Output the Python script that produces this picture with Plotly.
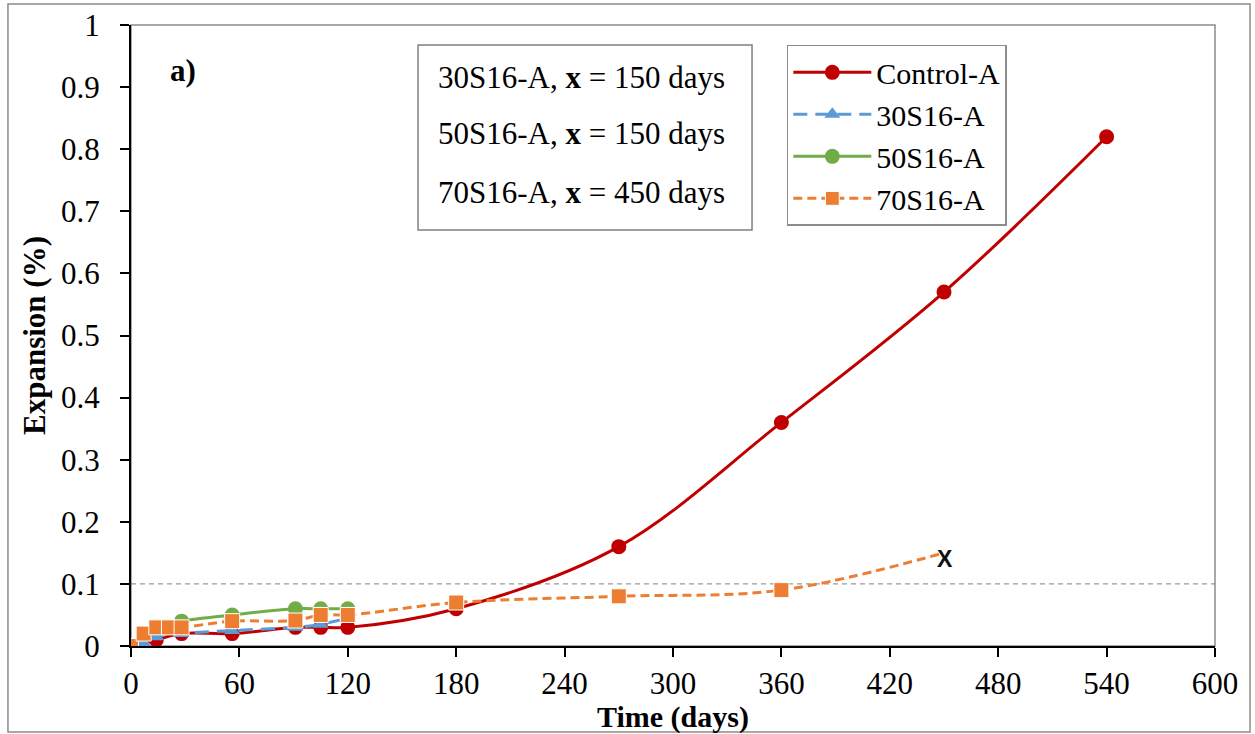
import plotly.graph_objects as go

# ---- data ----
days_control = [0, 14, 28, 56, 91, 105, 120, 180, 270, 360, 450, 540]
exp_control = [0, 0.01, 0.02, 0.02, 0.03, 0.03, 0.03, 0.06, 0.16, 0.36, 0.57, 0.82]

days_30 = [0, 7, 14, 28, 56, 91, 105, 120]
exp_30 = [0, 0.005, 0.015, 0.02, 0.025, 0.03, 0.035, 0.045]

days_50 = [0, 7, 14, 28, 56, 91, 105, 120]
exp_50 = [0, 0.02, 0.03, 0.04, 0.05, 0.06, 0.06, 0.06]

days_70 = [0, 7, 14, 21, 28, 56, 91, 105, 120, 180, 270, 360, 450]
exp_70 = [0, 0.02, 0.03, 0.03, 0.03, 0.04, 0.041, 0.05, 0.05, 0.07, 0.08, 0.09, 0.15]

x_ticks = [0, 60, 120, 180, 240, 300, 360, 420, 480, 540, 600]
y_ticks = [0, 0.1, 0.2, 0.3, 0.4, 0.5, 0.6, 0.7, 0.8, 0.9, 1]

box_lines = ["30S16-A, <b>x</b> = 150 days",
             "50S16-A, <b>x</b> = 150 days",
             "70S16-A, <b>x</b> = 450 days"]
box_y = [0.9147, 0.826, 0.731]

RED = "#C00000"
BLUE = "#5B9BD5"
GREEN = "#70AD47"
ORANGE = "#ED7D31"
FONT = "Liberation Serif"
FS = 31

fig = go.Figure()
fig.add_trace(go.Scatter(
    x=days_control, y=exp_control, name="Control-A", mode="lines+markers",
    line=dict(color=RED, width=3, shape="spline", smoothing=1),
    marker=dict(symbol="circle", size=15, color=RED, opacity=1)))
fig.add_trace(go.Scatter(
    x=days_30, y=exp_30, name="30S16-A", mode="lines+markers",
    line=dict(color=BLUE, width=3, dash="14px,8px", shape="spline", smoothing=1),
    marker=dict(symbol="triangle-up", size=14, color=BLUE, opacity=1)))
fig.add_trace(go.Scatter(
    x=days_50, y=exp_50, name="50S16-A", mode="lines+markers",
    line=dict(color=GREEN, width=3, shape="spline", smoothing=1),
    marker=dict(symbol="circle", size=15, color=GREEN, opacity=1)))
sizes70 = [15] * (len(days_70) - 1) + [0]
fig.add_trace(go.Scatter(
    x=days_70, y=exp_70, name="70S16-A", mode="lines+markers",
    line=dict(color=ORANGE, width=3, dash="9px,5px", shape="spline", smoothing=1),
    marker=dict(symbol="square", size=sizes70, color=ORANGE, opacity=1)))

shapes = [
    dict(type="rect", xref="paper", yref="paper", x0=0, x1=1, y0=0, y1=1,
         line=dict(color="#8C8C8C", width=1.5), layer="below"),
    dict(type="rect", xref="paper", yref="paper", x0=-0.1135, x1=1.0323,
         y0=-0.1385, y1=1.0338, line=dict(color="#8C8C8C", width=1.5), layer="below"),
    dict(type="line", xref="paper", yref="y", x0=0, x1=1, y0=0.1, y1=0.1,
         line=dict(color="#808080", width=1, dash="5px,4px"), layer="below"),
    dict(type="rect", xref="paper", yref="paper", x0=0.2648, x1=0.5729,
         y0=0.6699, y1=0.9678, line=dict(color="#808080", width=1.5),
         fillcolor="white", layer="below"),
]

annotations = [
    dict(x=0.2814, y=yy, xref="paper", yref="paper", text=t, showarrow=False,
         xanchor="left", yanchor="middle", font=dict(family=FONT, size=FS, color="black"))
    for t, yy in zip(box_lines, box_y)
]
annotations.append(dict(x=28.8, y=0.9275, xref="x", yref="y", text="<b>a)</b>",
                        showarrow=False, xanchor="center", yanchor="middle",
                        font=dict(family=FONT, size=FS, color="black")))
annotations.append(dict(x=days_70[-1], y=exp_70[-1], xref="x", yref="y", text="<b>X</b>",
                        showarrow=False, xanchor="left", yanchor="middle", xshift=-9, yshift=-6,
                        font=dict(family="Liberation Sans", size=23, color="#111111")))
# x-axis title
annotations.append(dict(x=0.5, y=-0.1143, xref="paper", yref="paper",
                        text="<b>Time (days)</b>", showarrow=False,
                        xanchor="center", yanchor="middle",
                        font=dict(family=FONT, size=30, color="black")))

fig.update_layout(
    width=1255, height=734,
    margin=dict(l=131, r=40, t=25, b=88),
    paper_bgcolor="white", plot_bgcolor="white",
    font=dict(family=FONT, size=FS, color="black"),
    showlegend=True,
    legend=dict(x=0.605, y=0.968, xanchor="left", yanchor="top",
                bordercolor="#8C8C8C", borderwidth=1.5, bgcolor="white",
                font=dict(family=FONT, size=30, color="black"),
                tracegroupgap=0, itemwidth=78),
    shapes=shapes,
    annotations=annotations,
    xaxis=dict(range=[0, 600], tickmode="array", tickvals=x_ticks,
               ticktext=[str(v) for v in x_ticks],
               showline=True, linecolor="black", linewidth=2,
               ticks="outside", ticklen=9, tickwidth=2, tickcolor="black",
               showgrid=False, zeroline=False, ticklabelstandoff=0,
               automargin=False),
    yaxis=dict(range=[0, 1], tickmode="array", tickvals=y_ticks,
               ticktext=[f"{v:g}" for v in y_ticks],
               showline=True, linecolor="black", linewidth=2,
               ticks="outside", ticklen=9, tickwidth=2, tickcolor="black",
               showgrid=False, zeroline=False, ticklabelstandoff=14,
               automargin=False,
               title=dict(text="<b>Expansion (%)</b>", standoff=6,
                          font=dict(family=FONT, size=FS))),
)

fig.write_html("out.html")
